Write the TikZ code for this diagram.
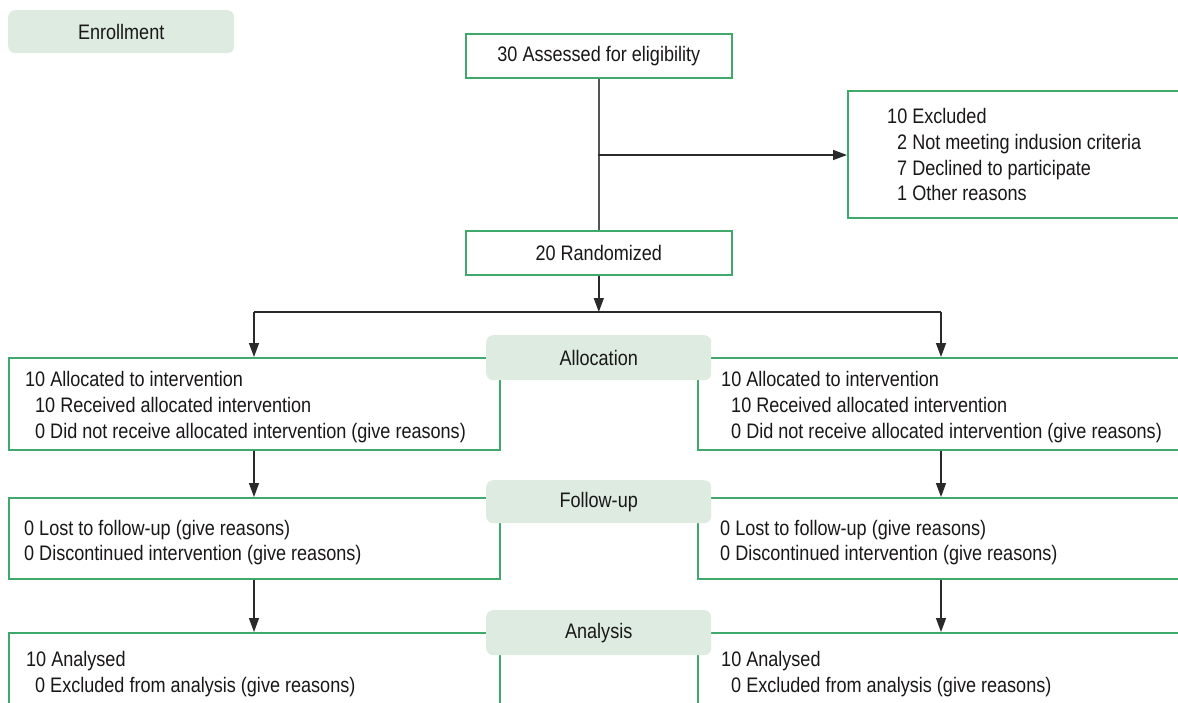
\documentclass[tikz,border=0pt]{standalone}
\usepackage{fontspec}
\setmainfont{Liberation Sans}[FakeStretch=0.86]
\usetikzlibrary{arrows.meta}
\definecolor{boxgreen}{HTML}{3FA96B}
\definecolor{labfill}{HTML}{DDEBE0}
\definecolor{txt}{HTML}{1A1718}
\definecolor{conn}{HTML}{2A2A2A}
\begin{document}
\begin{tikzpicture}[x=1pt,y=-1pt,
  every node/.style={font=\fontsize{21}{25}\selectfont, text=txt},
  box/.style={draw=boxgreen, line width=1.6pt, fill=white, anchor=north west, inner sep=0pt},
  stage/.style={fill=labfill, rounded corners=7pt, anchor=north west, inner sep=0pt},
  line/.style={anchor=base west, inner sep=0pt},
  conn/.style={draw=conn, line width=1.4pt},
  arr/.style={conn, -{Triangle[length=14pt,width=10pt]}}
]
\useasboundingbox (0,0) rectangle (1178,702);
\clip (0,0) rectangle (1178,702);

% boxes
\node[box, minimum width=266pt, minimum height=44pt] (assess) at (465,33) {};
\node[box, minimum width=360pt, minimum height=127pt] (excl) at (847,90) {};
\node[box, minimum width=266pt, minimum height=44pt] (rand) at (465,230) {};
\node[box, minimum width=491pt, minimum height=92pt] (allocL) at (8,357) {};
\node[box, minimum width=510pt, minimum height=92pt] (allocR) at (697,357) {};
\node[box, minimum width=491pt, minimum height=81pt] (fuL) at (8,497) {};
\node[box, minimum width=510pt, minimum height=81pt] (fuR) at (697,497) {};
\node[box, minimum width=491pt, minimum height=100pt] (anL) at (8,632) {};
\node[box, minimum width=510pt, minimum height=100pt] (anR) at (697,632) {};

% stage labels
\node[stage, minimum width=226pt, minimum height=43pt] (enroll) at (8,10) {};
\node at (enroll.center) {Enrollment};
\node[stage, minimum width=225pt, minimum height=45pt] (allocS) at (486,335) {};
\node at (allocS.center) {Allocation};
\node[stage, minimum width=225pt, minimum height=43pt] (fuS) at (486,480) {};
\node at (fuS.center) {Follow-up};
\node[stage, minimum width=225pt, minimum height=45pt] (anS) at (486,610) {};
\node at (anS.center) {Analysis};

% box texts
\node at (assess.center) {30 Assessed for eligibility};
\node at (rand.center) {20 Randomized};

\node[line] (e1) at (887,123) {10 Excluded};
\node[line] (e2) at (897,149) {2 Not meeting indusion criteria};
\node[line] (e3) at (897,175) {7 Declined to participate};
\node[line] (e4) at (897,200) {1 Other reasons};

\node[line] (al1) at (25,386) {10 Allocated to intervention};
\node[line] (al2) at (35,412) {10 Received allocated intervention};
\node[line] (al3) at (35,438) {0 Did not receive allocated intervention (give reasons)};
\node[line] (ar1) at (721,386) {10 Allocated to intervention};
\node[line] (ar2) at (731,412) {10 Received allocated intervention};
\node[line] (ar3) at (731,438) {0 Did not receive allocated intervention (give reasons)};

\node[line] (fl1) at (24,535) {0 Lost to follow-up (give reasons)};
\node[line] (fl2) at (24,560) {0 Discontinued intervention (give reasons)};
\node[line] (fr1) at (720,535) {0 Lost to follow-up (give reasons)};
\node[line] (fr2) at (720,560) {0 Discontinued intervention (give reasons)};

\node[line] (nl1) at (26,666) {10 Analysed};
\node[line] (nl2) at (35,692) {0 Excluded from analysis (give reasons)};
\node[line] (nr1) at (721,666) {10 Analysed};
\node[line] (nr2) at (731,692) {0 Excluded from analysis (give reasons)};

% connectors
\coordinate (branch) at (598,155);
\coordinate (split) at (598,312);
\coordinate (colL) at (254,0);
\coordinate (colR) at (941,0);
\draw[conn, draw=conn!80, line width=1.8pt] (assess.south) -- (rand.north);
\draw[arr] (branch) -- (branch -| excl.west);
\draw[arr] (rand.south) -- (rand.south |- split);
\draw[conn] (split -| colL) -- (split -| colR);
\draw[arr] (split -| colL) -- (allocL.north -| colL);
\draw[arr] (split -| colR) -- (allocR.north -| colR);
\draw[arr] (allocL.south -| colL) -- (fuL.north -| colL);
\draw[arr] (allocR.south -| colR) -- (fuR.north -| colR);
\draw[arr] (fuL.south -| colL) -- (anL.north -| colL);
\draw[arr] (fuR.south -| colR) -- (anR.north -| colR);
\end{tikzpicture}
\end{document}
